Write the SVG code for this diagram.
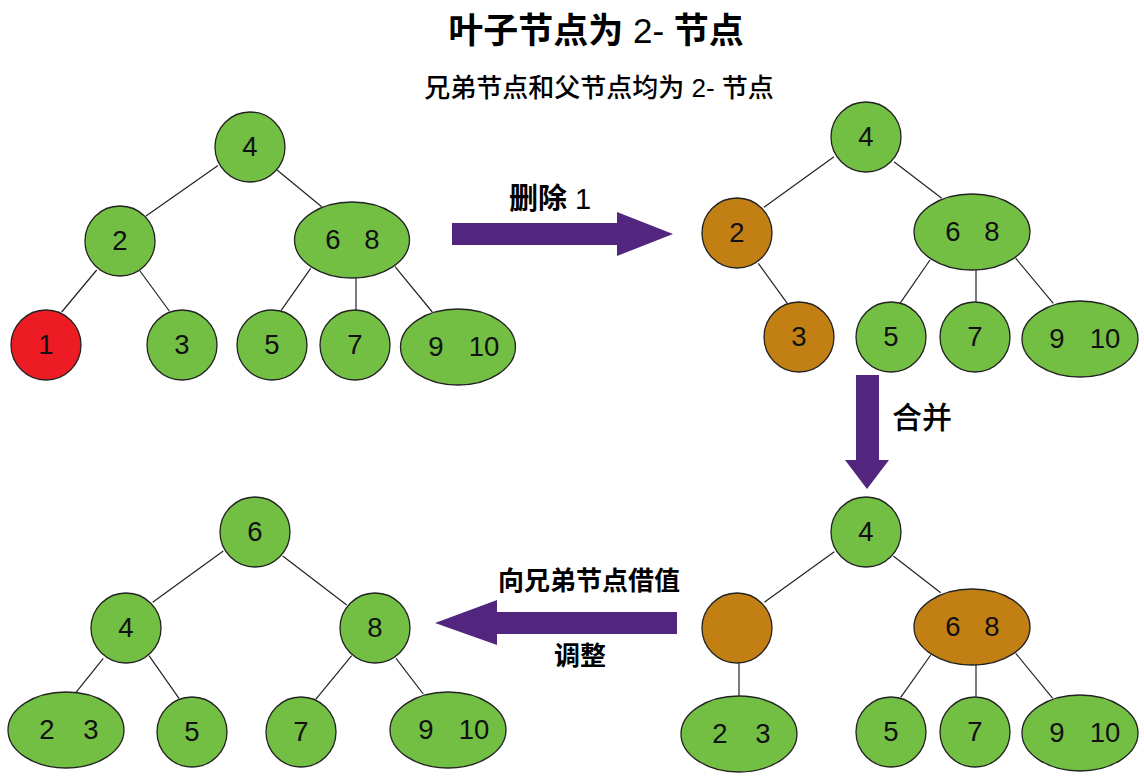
<svg xmlns="http://www.w3.org/2000/svg" width="1144" height="779" viewBox="0 0 1144 779">
<style>
.g{fill:#72BF44;stroke:#222;stroke-width:1.3}
.b{fill:#C28014;stroke:#222;stroke-width:1.3}
.r{fill:#ED1C24;stroke:#222;stroke-width:1.3}
.n{font-family:"Liberation Sans",Arial,sans-serif;font-weight:normal;font-size:27.5px;fill:#111;text-anchor:middle}
.e line{stroke:#222;stroke-width:1.2}
.arr{fill:#52267F}
.cj{font-family:"Liberation Sans","Noto Sans CJK SC",sans-serif;fill:#000;text-anchor:middle}
.lt{font-weight:normal}
</style>
<rect width="1144" height="779" fill="#fff"/>
<text class="cj" x="596" y="43" font-size="35" font-weight="bold">叶子节点为<tspan class="lt"> 2- </tspan>节点</text>
<text class="cj" x="599" y="97" font-size="26" font-weight="500">兄弟节点和父节点均为<tspan class="lt"> 2- </tspan>节点</text>
<g id="connectors" class="e">
<line x1="218" y1="165.5" x2="146" y2="216"/>
<line x1="277" y1="170" x2="321.7" y2="206.7"/>
<line x1="96.7" y1="270" x2="61.7" y2="312"/>
<line x1="140" y1="271" x2="169.3" y2="311"/>
<line x1="310.7" y1="268.3" x2="281" y2="310.7"/>
<line x1="356" y1="277.7" x2="356" y2="310"/>
<line x1="395" y1="266.7" x2="432.3" y2="312"/>
<line x1="834" y1="156.7" x2="764" y2="207.3"/>
<line x1="894" y1="161.7" x2="941.7" y2="198.3"/>
<line x1="758.3" y1="263.3" x2="787.3" y2="303.3"/>
<line x1="930" y1="260" x2="900" y2="303.3"/>
<line x1="976" y1="269" x2="976" y2="301.7"/>
<line x1="1015.7" y1="258.3" x2="1053.3" y2="303.3"/>
<line x1="834.3" y1="551.7" x2="764.3" y2="602.3"/>
<line x1="893.3" y1="556" x2="940.7" y2="592.7"/>
<line x1="739" y1="663.3" x2="739" y2="695.7"/>
<line x1="930.7" y1="655" x2="900.7" y2="697.3"/>
<line x1="976" y1="664.3" x2="976" y2="696.7"/>
<line x1="1015.7" y1="653.3" x2="1052.7" y2="698.3"/>
<line x1="223.3" y1="551" x2="152.7" y2="602.3"/>
<line x1="282.7" y1="556" x2="346.7" y2="605"/>
<line x1="103.3" y1="658.3" x2="76" y2="692.3"/>
<line x1="149" y1="655.7" x2="179" y2="698.3"/>
<line x1="351.7" y1="655.7" x2="315.7" y2="699.3"/>
<line x1="396" y1="658.3" x2="423.3" y2="694"/>
</g>
<!-- Tree 1 -->
<g id="t1-4"><circle class="g" cx="250" cy="147" r="35"/><text class="n" x="250" y="156">4</text></g>
<g id="t1-2"><circle class="g" cx="120" cy="241" r="35"/><text class="n" x="120" y="250">2</text></g>
<g id="t1-68"><ellipse class="g" cx="352" cy="240" rx="57.5" ry="38"/><text class="n" y="249"><tspan x="333">6</tspan><tspan x="372">8</tspan></text></g>
<g id="t1-1"><circle class="r" cx="46" cy="345" r="35"/><text class="n" x="46" y="354">1</text></g>
<g id="t1-3"><circle class="g" cx="182" cy="345" r="35"/><text class="n" x="182" y="354">3</text></g>
<g id="t1-5"><circle class="g" cx="272" cy="345" r="35"/><text class="n" x="272" y="354">5</text></g>
<g id="t1-7"><circle class="g" cx="355" cy="345" r="35"/><text class="n" x="355" y="354">7</text></g>
<g id="t1-910"><ellipse class="g" cx="458" cy="347" rx="57.5" ry="38"/><text class="n" y="356"><tspan x="436">9</tspan><tspan x="484">10</tspan></text></g>
<!-- Tree 2 -->
<g id="t2-4"><circle class="g" cx="866" cy="137" r="35"/><text class="n" x="866" y="146">4</text></g>
<g id="t2-2"><circle class="b" cx="737" cy="233" r="35"/><text class="n" x="737" y="242">2</text></g>
<g id="t2-68"><ellipse class="g" cx="972" cy="232" rx="58" ry="38"/><text class="n" y="241"><tspan x="953">6</tspan><tspan x="992">8</tspan></text></g>
<g id="t2-3"><circle class="b" cx="799" cy="337" r="35"/><text class="n" x="799" y="346">3</text></g>
<g id="t2-5"><circle class="g" cx="891" cy="337" r="35"/><text class="n" x="891" y="346">5</text></g>
<g id="t2-7"><circle class="g" cx="975" cy="337" r="35"/><text class="n" x="975" y="346">7</text></g>
<g id="t2-910"><ellipse class="g" cx="1080" cy="339" rx="58" ry="38"/><text class="n" y="348"><tspan x="1057">9</tspan><tspan x="1105">10</tspan></text></g>
<!-- Tree 3 -->
<g id="t3-4"><circle class="g" cx="866" cy="532" r="35"/><text class="n" x="866" y="541">4</text></g>
<g id="t3-empty"><circle class="b" cx="737" cy="628" r="35"/></g>
<g id="t3-68"><ellipse class="b" cx="972" cy="627" rx="58" ry="38"/><text class="n" y="636"><tspan x="953">6</tspan><tspan x="992">8</tspan></text></g>
<g id="t3-23"><ellipse class="g" cx="739" cy="734" rx="58" ry="38"/><text class="n" y="743"><tspan x="720">2</tspan><tspan x="763">3</tspan></text></g>
<g id="t3-5"><circle class="g" cx="891" cy="732" r="35"/><text class="n" x="891" y="741">5</text></g>
<g id="t3-7"><circle class="g" cx="975" cy="732" r="35"/><text class="n" x="975" y="741">7</text></g>
<g id="t3-910"><ellipse class="g" cx="1080" cy="733" rx="58" ry="38"/><text class="n" y="742"><tspan x="1057">9</tspan><tspan x="1105">10</tspan></text></g>
<!-- Tree 4 -->
<g id="t4-6"><circle class="g" cx="255" cy="532" r="35"/><text class="n" x="255" y="541">6</text></g>
<g id="t4-4"><circle class="g" cx="126" cy="628" r="35"/><text class="n" x="126" y="637">4</text></g>
<g id="t4-8"><circle class="g" cx="375" cy="628" r="35"/><text class="n" x="375" y="637">8</text></g>
<g id="t4-23"><ellipse class="g" cx="66" cy="730" rx="58" ry="38"/><text class="n" y="739"><tspan x="47">2</tspan><tspan x="91">3</tspan></text></g>
<g id="t4-5"><circle class="g" cx="192" cy="732" r="35"/><text class="n" x="192" y="741">5</text></g>
<g id="t4-7"><circle class="g" cx="301" cy="732" r="35"/><text class="n" x="301" y="741">7</text></g>
<g id="t4-910"><ellipse class="g" cx="448" cy="730" rx="58" ry="38"/><text class="n" y="739"><tspan x="426">9</tspan><tspan x="474">10</tspan></text></g>
<!-- Arrows -->
<g id="arrow-delete">
<polygon class="arr" points="452,223 617,223 617,212 673,234 617,256 617,245 452,245"/>
<text class="cj" x="550" y="209" font-size="29" font-weight="bold">删除<tspan class="lt"> 1</tspan></text>
</g>
<g id="arrow-merge">
<polygon class="arr" points="856,375 879,375 879,460 889,460 867,489 845,460 856,460"/>
<text class="cj" x="922" y="428" font-size="30" font-weight="500">合并</text>
</g>
<g id="arrow-borrow">
<polygon class="arr" points="677,612 677,634 497,634 497,645 435,623 497,600 497,612"/>
<text class="cj" x="589" y="590" font-size="26" font-weight="bold">向兄弟节点借值</text>
<text class="cj" x="580" y="665" font-size="26" font-weight="bold">调整</text>
</g>
</svg>
